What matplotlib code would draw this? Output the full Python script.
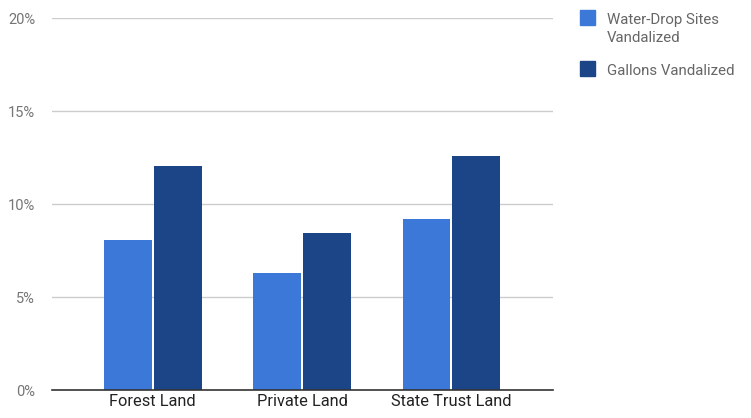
import matplotlib
matplotlib.use("Agg")
import matplotlib.pyplot as plt
import numpy as np
from matplotlib.patches import Rectangle

categories = ["Forest Land", "Private Land", "State Trust Land"]
sites = [8.07, 6.28, 9.19]
gallons = [12.06, 8.43, 12.59]
series_names = ["Water-Drop Sites\nVandalized", "Gallons Vandalized"]
yticks = [0, 5, 10, 15, 20]
ytick_labels = ["0%", "5%", "10%", "15%", "20%"]

c_light = "#3c78d8"
c_dark = "#1c4587"

plt.rcParams["font.family"] = ["Roboto", "DejaVu Sans"]

W, H = 751, 418
fig = plt.figure(figsize=(W/100, H/100), dpi=100)
ax = fig.add_axes([52/W, 1 - 390/H, (553-52)/W, (390-18.3)/H])

x = np.arange(len(categories))
w = 0.32
gap = 0.013
ax.bar(x - w/2 - gap/2, sites, width=w, color=c_light, zorder=3)
ax.bar(x + w/2 + gap/2, gallons, width=w, color=c_dark, zorder=3)

ax.set_xlim(-0.675, 2.68)
ax.set_ylim(0, 20)
ax.set_yticks(yticks)
ax.set_yticklabels(ytick_labels, color="#757575", fontsize=10.5)
ax.set_xticks(x)
ax.set_xticklabels(categories, color="#222222", fontsize=11.8)
ax.tick_params(axis="y", length=0, pad=12)
ax.tick_params(axis="x", length=0, pad=3)
ax.grid(axis="y", color="#cccccc", linewidth=1, zorder=0)
for s in ["top", "right", "left"]:
    ax.spines[s].set_visible(False)
ax.spines["bottom"].set_color("#333333")
ax.spines["bottom"].set_linewidth(1.2)
ax.spines["bottom"].set_zorder(4)

# legend (manual placement)
legend_items = [(c_light, 10, [(series_names[0].split("\n")[0], 24), (series_names[0].split("\n")[1], 42)]),
                (c_dark, 61, [(series_names[1], 75)])]
for color, top, lines in legend_items:
    fig.patches.append(Rectangle((580/W, 1 - (top + 15)/H), 15/W, 15/H,
                                 transform=fig.transFigure, color=color))
    for txt, base in lines:
        fig.text(607/W, 1 - base/H, txt, fontsize=10.8, color="#666666",
                 va="baseline", ha="left")

fig.savefig("out.png", dpi=100)
